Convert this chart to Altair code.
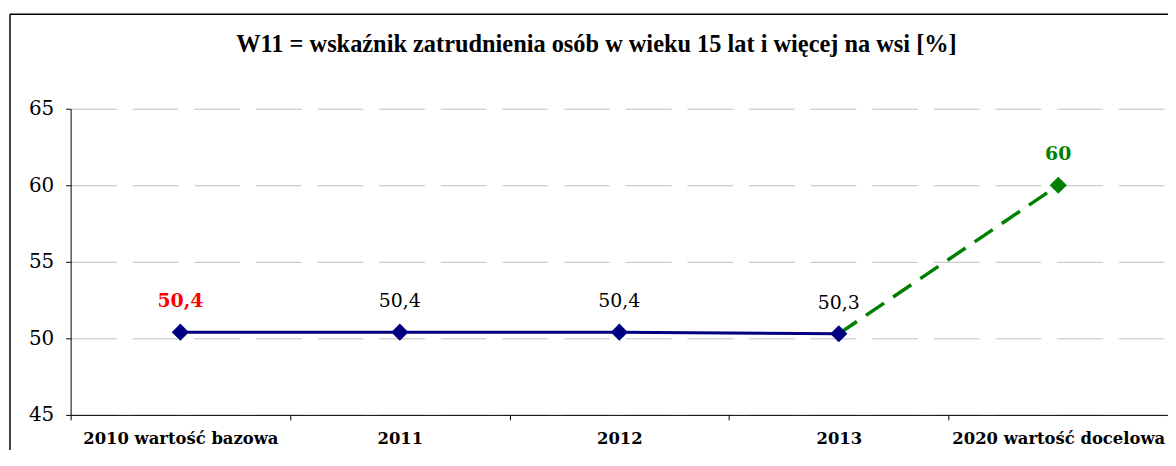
import altair as alt
import pandas as pd

title_text = "W11 = wskaźnik zatrudnienia osób w wieku 15 lat i więcej na wsi [%]"
categories = ["2010 wartość bazowa", "2011", "2012", "2013", "2020 wartość docelowa"]
actual_values = [50.4, 50.4, 50.4, 50.3]
target_categories = ["2013", "2020 wartość docelowa"]
target_values = [50.3, 60]
label_texts = ["50,4", "50,4", "50,4", "50,3", "60"]
label_kinds = ["base", "normal", "normal", "normal", "target"]

actual_df = pd.DataFrame({"cat": categories[:4], "val": actual_values})
target_df = pd.DataFrame({"cat": target_categories, "val": target_values})
label_df = pd.DataFrame({
    "cat": categories,
    "val": actual_values + [target_values[-1]],
    "txt": label_texts,
    "kind": label_kinds,
})

SERIF = "DejaVu Serif"
TITLE_FONT = "Liberation Serif"
NAVY = "#000080"
GREEN = "#008000"

x_enc = alt.X(
    "cat:N",
    sort=categories,
    scale=alt.Scale(type="band", domain=categories, paddingInner=0, paddingOuter=0),
    axis=alt.Axis(
        title=None, labelAngle=0, labelFont=SERIF, labelFontSize=16.5, labelFontWeight="bold",
        labelColor="black", domainColor="black", tickColor="black", tickSize=5,
        tickBand="extent", labelPadding=11, grid=False, labelLimit=0,
    ),
)
y_enc = alt.Y(
    "val:Q",
    scale=alt.Scale(domain=[45, 65], nice=False, zero=False),
    axis=alt.Axis(
        title=None, values=[45, 50, 55, 60, 65], labelFont=SERIF, labelFontSize=20,
        labelColor="black", domainColor="black", tickColor="black", tickSize=5,
        labelPadding=12, grid=True, gridColor="#c0c0c0", gridDash=[46, 16], gridWidth=1,
    ),
)

color_scale = alt.Scale(domain=["base", "normal", "target"], range=["#ff0000", "black", GREEN])

target_line = alt.Chart(target_df).mark_line(
    color=GREEN, strokeWidth=3.5, strokeDash=[22, 11]
).encode(x=x_enc, y=y_enc)

actual_line = alt.Chart(actual_df).mark_line(
    color=NAVY, strokeWidth=3
).encode(x=x_enc, y=y_enc)

actual_pts = alt.Chart(actual_df).mark_point(
    shape="diamond", filled=True, color=NAVY, size=300, opacity=1
).encode(x=x_enc, y=y_enc)

target_pt = alt.Chart(target_df.iloc[[1]]).mark_point(
    shape="diamond", filled=True, color=GREEN, size=300, opacity=1
).encode(x=x_enc, y=y_enc)

labels_bold = alt.Chart(label_df).transform_filter(
    alt.datum.kind != "normal"
).mark_text(font=SERIF, fontSize=19, fontWeight="bold", dy=-31, baseline="middle").encode(
    x=x_enc, y=y_enc, text="txt:N",
    color=alt.Color("kind:N", scale=color_scale, legend=None),
)

labels_norm = alt.Chart(label_df).transform_filter(
    alt.datum.kind == "normal"
).mark_text(font=SERIF, fontSize=19, dy=-31, baseline="middle").encode(
    x=x_enc, y=y_enc, text="txt:N",
    color=alt.Color("kind:N", scale=color_scale, legend=None),
)

one = pd.DataFrame({"a": [0]})
frame_top = alt.Chart(one).mark_rule(color="black", strokeWidth=1.5).encode(
    x=alt.value(-61), x2=alt.value(1110), y=alt.value(-95)
)
frame_left = alt.Chart(one).mark_rule(color="black", strokeWidth=1.5).encode(
    x=alt.value(-61), y=alt.value(-95), y2=alt.value(360)
)

title = alt.Chart(pd.DataFrame({"t": [title_text]})).mark_text(
    font=TITLE_FONT, fontSize=24.5, fontWeight="bold", color="black", align="center", baseline="middle"
).encode(x=alt.value(529), y=alt.value(-64), text="t:N")

chart = alt.layer(
    frame_top, frame_left, title, target_line, actual_line, actual_pts, target_pt,
    labels_bold, labels_norm
).properties(
    width=1104,
    height=308,
    autosize=alt.AutoSizeParams(type="none"),
    padding={"left": 63, "top": 100, "right": 0, "bottom": 34},
    background="white",
).configure_view(stroke=None)

chart.save("out.html", embed_options={"renderer": "svg", "actions": False})
